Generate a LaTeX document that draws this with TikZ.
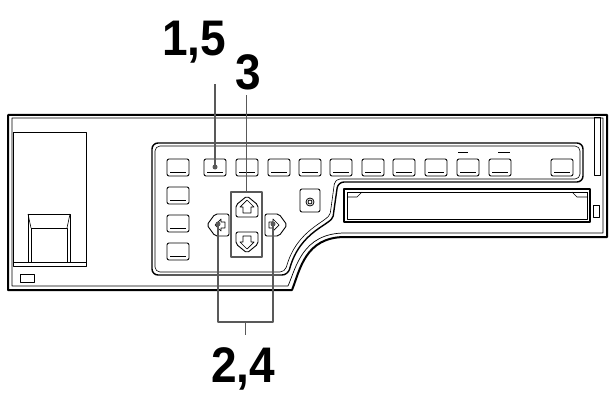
\documentclass[tikz,border=0pt]{standalone}
\usepackage{fontspec}
\setmainfont{Liberation Sans}
\begin{document}
\begin{tikzpicture}[x=1pt,y=-1pt,line join=round,
  btn/.style={draw,line width=0.9pt,rounded corners=2pt},
  call/.style={draw=gray!70!black,line width=1.6pt},
  lbl/.style={font=\fontsize{50}{50}\selectfont\bfseries,inner sep=0pt,xscale=0.92}]
\useasboundingbox (0,0) rectangle (615,401);
% body
\draw[line width=2pt] (8,115) -- (607,115) -- (607,237) -- (345,237)
  .. controls (305,237) and (300,270) .. (292,290) -- (8,290) -- cycle;
\draw[line width=0.7pt] (12,118) -- (603,118) -- (603,233) -- (345,233)
  .. controls (302,233) and (296,268) .. (288,286) -- (12,286) -- cycle;
\draw[line width=0.7pt] (594,117) rectangle (600,175);
% left compartment
\draw[line width=0.8pt] (13,132) rectangle (86,266);
\draw[line width=0.8pt] (13,262) -- (86,262);
\draw[line width=0.8pt] (28,262) -- (28,214) -- (70,214) -- (70,262);
\draw[line width=0.6pt] (31,262) -- (31,228) -- (67,228) -- (67,262);
\draw[line width=0.6pt] (28,214) -- (31,228) (70,214) -- (67,228);
\draw[line width=0.7pt] (20,274) rectangle (34,282);
% panel
\draw[line width=1.4pt,rounded corners=6pt] (152,143) -- (583,143) -- (583,182) -- (338,182) -- (334,210)
  .. controls (332,225) and (300,230) .. (288,275) -- (152,275) -- cycle;
\draw[line width=0.6pt,rounded corners=5pt] (155,146) -- (580,146) -- (580,179) -- (335,179) -- (331,208)
  .. controls (329,222) and (297,228) .. (285,272) -- (155,272) -- cycle;
% slot
\draw[line width=1.2pt] (344,189) rectangle (590,222);
\draw[line width=0.6pt] (347,192) -- (587,192) (347,192) -- (347,219) -- (587,219) -- (587,192);
\draw[line width=0.6pt] (347,197) -- (357,197) -- (362,192) (587,197) -- (577,197) -- (572,192);
\draw[line width=0.7pt] (593,205) rectangle (599,217);
% row buttons
\foreach \x [count=\i] in {167,204,236,268,299,330,362,393,425,457,489,551}{
  \draw[btn] (\x,159) rectangle ++(22,17);
  \draw[line width=1pt] (\x+3,172) -- ++(16,0);
  \node[inner sep=0pt] (b\i) at (\x+11,167) {};
}
\draw[line width=0.8pt] (458,152) -- (468,152) (498,152) -- (510,152);
\foreach \y in {187,215,243}{
  \draw[btn] (167,\y) rectangle ++(22,17);
  \draw[line width=1pt] (170,\y+13) -- ++(16,0);
}
% round button
\draw[btn] (300,189) rectangle (320,212);
\draw[line width=0.8pt] (310,202) circle (4) (310,202) circle (2);
% arrow keys
\draw[line width=1.5pt,draw=gray!70!black] (231,192) rectangle (262,257);
\node[inner sep=0pt] (upbox) at (246.5,192) {};
\draw[btn] (236,217) -- (236,205) -- (247,196) -- (258,205) -- (258,217) -- cycle;
\draw[line width=0.7pt] (243,213) -- (243,207) -- (240,207) -- (247,200) -- (254,207) -- (251,207) -- (251,213) -- cycle;
\draw[btn] (236,232) -- (258,232) -- (258,244) -- (247,253) -- (236,244) -- cycle;
\draw[line width=0.7pt] (243,236) -- (243,242) -- (240,242) -- (247,249) -- (254,242) -- (251,242) -- (251,236) -- cycle;
\draw[btn] (229,214) -- (229,236) -- (215,236) -- (207,225) -- (215,214) -- cycle;
\draw[line width=0.7pt] (225,222) -- (221,222) -- (221,219) -- (215,225) -- (221,231) -- (221,228) -- (225,228) -- cycle;
\draw[btn] (265,214) -- (279,214) -- (287,225) -- (279,236) -- (265,236) -- cycle;
\draw[line width=0.7pt] (269,222) -- (273,222) -- (273,219) -- (279,225) -- (273,231) -- (273,228) -- (269,228) -- cycle;
\coordinate (lk) at (218,224);
\coordinate (rk) at (273,224);
% labels and callouts
\node[lbl] (l15) at (194,42) {1,5};
\node[lbl] (l3) at (248,72) {3};
\node[lbl] (l24) at (243,369) {2,4};
\fill[gray!70!black] (b2) circle (2.5);
\draw[call] (b2) -- (b2 |- 0,84);
\draw[call] (upbox) -- (upbox |- 0,95);
\fill[gray!70!black] (lk) circle (2.5) (rk) circle (2.5);
\coordinate (bm) at (245.5,322);
\draw[call] (lk) -- (lk |- bm) -- (rk |- bm) -- (rk);
\draw[call] (bm) -- ++(0,13);
\end{tikzpicture}
\end{document}
